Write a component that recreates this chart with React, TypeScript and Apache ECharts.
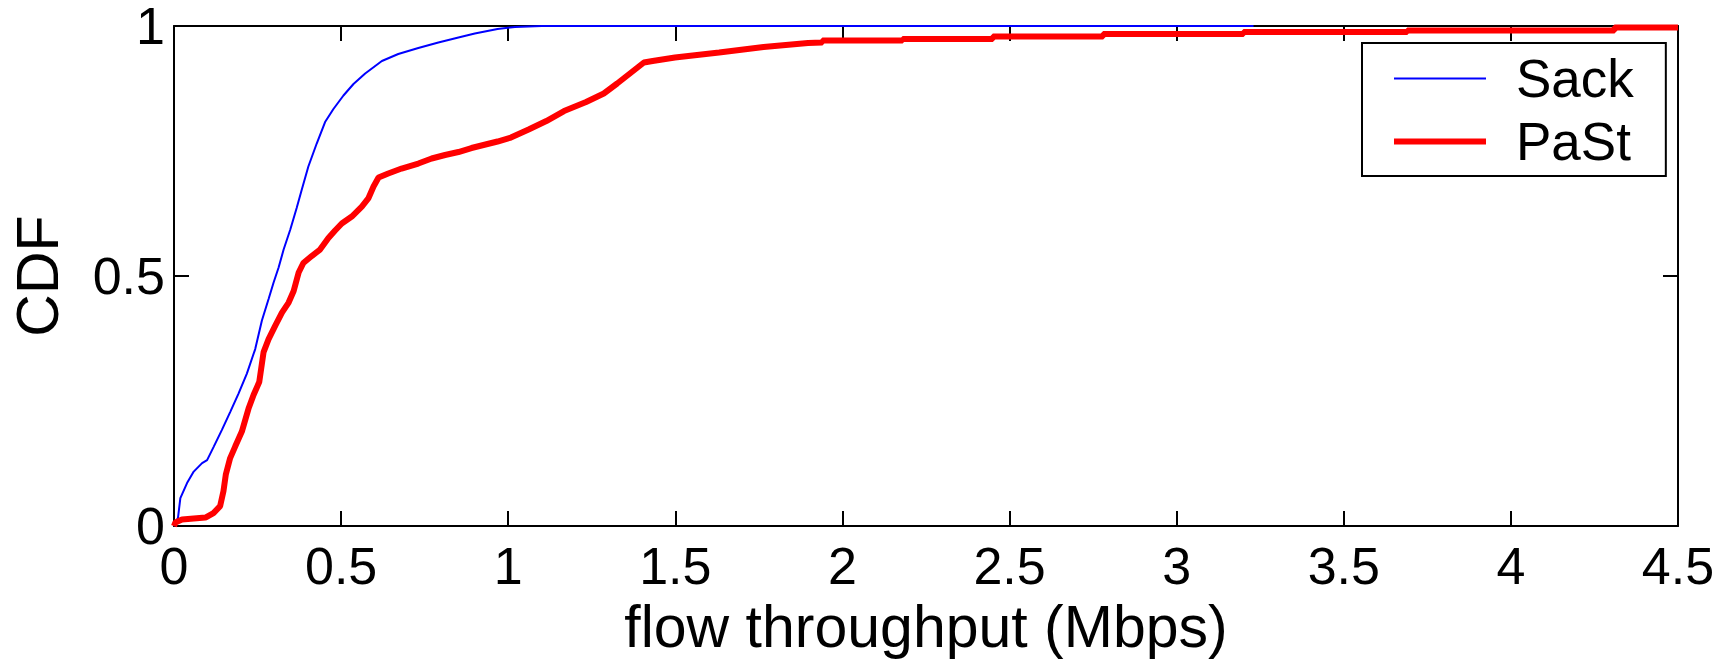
import React, { useEffect, useRef } from "react";
import * as echarts from "echarts";

const sackX = [0, 0.012, 0.019, 0.039, 0.059, 0.084, 0.099, 0.119, 0.143, 0.168, 0.193, 0.218, 0.243, 0.263, 0.283, 0.298, 0.313, 0.328, 0.348, 0.367, 0.382, 0.402, 0.427, 0.452, 0.477, 0.507, 0.537, 0.572, 0.622, 0.671, 0.731, 0.791, 0.851, 0.9, 0.968, 1.02, 1.1, 3.23];
const sackY = [0, 0.017, 0.056, 0.086, 0.109, 0.126, 0.132, 0.159, 0.192, 0.228, 0.265, 0.305, 0.354, 0.411, 0.454, 0.487, 0.517, 0.553, 0.593, 0.636, 0.672, 0.719, 0.765, 0.808, 0.834, 0.861, 0.884, 0.905, 0.93, 0.944, 0.956, 0.967, 0.977, 0.985, 0.994, 0.998, 1.0, 1.0];

const pastX = [0, 0.004, 0.024, 0.094, 0.118, 0.138, 0.148, 0.155, 0.168, 0.183, 0.203, 0.223, 0.238, 0.255, 0.268, 0.283, 0.303, 0.323, 0.343, 0.358, 0.373, 0.387, 0.412, 0.437, 0.462, 0.482, 0.502, 0.532, 0.562, 0.582, 0.597, 0.612, 0.641, 0.681, 0.731, 0.771, 0.811, 0.851, 0.89, 0.968, 1.008, 1.061, 1.114, 1.167, 1.233, 1.286, 1.326, 1.366, 1.406, 1.432, 1.499, 1.631, 1.764, 1.897, 1.94, 1.94, 2.18, 2.18, 2.45, 2.45, 2.78, 2.78, 3.2, 3.2, 3.69, 3.69, 4.31, 4.31, 4.5];
const pastY = [0, 0.007, 0.013, 0.017, 0.026, 0.04, 0.07, 0.103, 0.136, 0.159, 0.189, 0.235, 0.262, 0.288, 0.348, 0.374, 0.401, 0.427, 0.447, 0.47, 0.507, 0.526, 0.54, 0.553, 0.576, 0.591, 0.605, 0.619, 0.639, 0.656, 0.679, 0.697, 0.705, 0.715, 0.725, 0.735, 0.742, 0.748, 0.756, 0.769, 0.777, 0.793, 0.81, 0.83, 0.848, 0.865, 0.885, 0.906, 0.927, 0.93, 0.937, 0.947, 0.958, 0.966, 0.967, 0.971, 0.971, 0.974, 0.974, 0.979, 0.979, 0.984, 0.984, 0.988, 0.988, 0.991, 0.991, 0.997, 0.997];

const seriesNames = ["Sack", "PaSt"];
const xTitle = "flow throughput (Mbps)";
const yTitle = "CDF";

const FONT = "'Liberation Sans', Arial, Helvetica, sans-serif";

export default function App() {
  const ref = useRef<HTMLDivElement>(null);
  useEffect(() => {
    if (!ref.current) return;
    const chart = echarts.init(ref.current, undefined, { renderer: "svg" });
    const axisLine = { show: true, onZero: false, lineStyle: { color: "#000", width: 2 } };
    const tick = { show: true, inside: true, length: 15, lineStyle: { color: "#000", width: 2 } };
    chart.setOption({
      animation: false,
      backgroundColor: "#fff",
      grid: { left: 172, right: 55, top: 25, bottom: 133, containLabel: false },
      legend: {
        show: true,
        data: [
          { name: seriesNames[0], lineStyle: { color: "#0000ff", width: 2 }, itemStyle: { opacity: 0 } },
          { name: seriesNames[1], lineStyle: { color: "#ff0000", width: 6 }, itemStyle: { opacity: 0 } },
        ],
        itemStyle: { opacity: 0 },
        orient: "vertical",
        left: 1362,
        top: 43,
        itemWidth: 92,
        itemHeight: 20,
        itemGap: 10,
        padding: [9, 32, 8, 29],
        borderColor: "#000",
        borderWidth: 2,
        backgroundColor: "#fff",
        textStyle: { fontFamily: FONT, fontSize: 53, color: "#000", lineHeight: 53, padding: [0, 0, 0, 25] },
      },
      xAxis: [
        {
          type: "value",
          min: 0,
          max: 4.5,
          interval: 0.5,
          position: "bottom",
          axisLine,
          axisTick: tick,
          splitLine: { show: false },
          axisLabel: { fontFamily: FONT, fontSize: 52, color: "#000", margin: 14 },
          name: xTitle,
          nameLocation: "middle",
          nameGap: 69,
          nameTextStyle: { fontFamily: FONT, fontSize: 59, color: "#000" },
        },
        {
          type: "value",
          min: 0,
          max: 4.5,
          interval: 0.5,
          position: "top",
          axisLine,
          axisTick: tick,
          splitLine: { show: false },
          axisLabel: { show: false },
        },
      ],
      yAxis: [
        {
          type: "value",
          min: 0,
          max: 1,
          interval: 0.5,
          position: "left",
          axisLine,
          axisTick: tick,
          splitLine: { show: false },
          axisLabel: { fontFamily: FONT, fontSize: 52, lineHeight: 40, padding: [4, 0, 0, 0], color: "#000", margin: 9 },
          name: yTitle,
          nameLocation: "middle",
          nameGap: 107,
          nameTextStyle: { fontFamily: FONT, fontSize: 59, color: "#000" },
        },
        {
          type: "value",
          min: 0,
          max: 1,
          interval: 0.5,
          position: "right",
          axisLine,
          axisTick: tick,
          splitLine: { show: false },
          axisLabel: { show: false },
        },
      ],
      series: [
        {
          name: seriesNames[0],
          type: "line",
          xAxisIndex: 0,
          yAxisIndex: 0,
          data: sackX.map((x, i) => [x, sackY[i]]),
          symbol: "none",
          clip: false,
          lineStyle: { color: "#0000ff", width: 2 },
          itemStyle: { color: "#0000ff" },
        },
        {
          name: seriesNames[1],
          type: "line",
          xAxisIndex: 0,
          yAxisIndex: 0,
          data: pastX.map((x, i) => [x, pastY[i]]),
          symbol: "none",
          clip: false,
          lineStyle: { color: "#ff0000", width: 6 },
          itemStyle: { color: "#ff0000" },
        },
      ],
    });
    return () => chart.dispose();
  }, []);
  return <div ref={ref} style={{ position: "fixed", left: 0, top: 0, width: 1733, height: 661 }} />;
}
